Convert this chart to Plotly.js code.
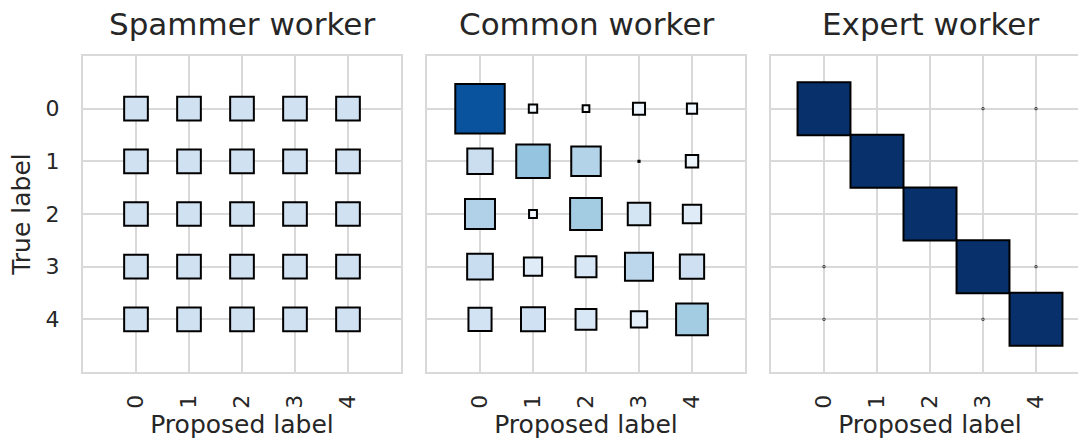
<!DOCTYPE html>
<html>
<head>
<meta charset="utf-8">
<script src="https://cdn.plot.ly/plotly-3.0.1.min.js"></script>
<style>
  html, body { margin: 0; padding: 0; overflow: hidden; background: #fff; }
</style>
</head>
<body>
<div id="plot"></div>
<script>
// labels on both axes
const labels = [0, 1, 2, 3, 4];
const titles = ['Spammer worker', 'Common worker', 'Expert worker'];

// rows = true label, columns = proposed label
const spammer = [
    [0.2, 0.2, 0.2, 0.2, 0.2],
    [0.2, 0.2, 0.2, 0.2, 0.2],
    [0.2, 0.2, 0.2, 0.2, 0.2],
    [0.2, 0.2, 0.2, 0.2, 0.2],
    [0.2, 0.2, 0.2, 0.2, 0.2]
];

const common = [
    [0.87, 0.025, 0.016, 0.052, 0.037],
    [0.23, 0.40, 0.31, 0.0005, 0.055],
    [0.32, 0.022, 0.36, 0.18, 0.12],
    [0.235, 0.118, 0.156, 0.28, 0.21],
    [0.19, 0.205, 0.155, 0.095, 0.36]
];

const expert = [
    [0.997, 0, 0, 0.0015, 0.0015],
    [0, 1, 0, 0, 0],
    [0, 0, 1, 0, 0],
    [0.0015, 0, 0, 0.997, 0.0015],
    [0.0015, 0, 0, 0.0015, 0.997]
];

// matplotlib "Blues"
const blues = [
    [0, '#f7fbff'], [0.125, '#deebf7'], [0.25, '#c6dbef'], [0.375, '#9ecae1'],
    [0.5, '#6baed6'], [0.625, '#4292c6'], [0.75, '#2171b5'], [0.875, '#08519c'], [1, '#08306b']
];

const W = 1090, H = 443;
const M = {l: 83, r: 1, t: 56, b: 71};
const panelPx = 318;
const gapPx = 26;
const innerW = W - M.l - M.r;
const cellPx = panelPx / 6;

const textColor = '#262626';
const gridColor = '#d9d9d9';

// edge width used for near-zero cells, per panel
const tinyEdge = [2, 2, 0.7];

function hintonTrace(mat, i) {
    const x = [], y = [], v = [], s = [];
    mat.forEach((row, r) => {
        row.forEach((val, c) => {
            if (val <= 0) return;
            x.push(labels[c]);
            y.push(labels[r]);
            v.push(val);
            s.push(Math.sqrt(val) * cellPx);
        });
    });
    const n = i === 0 ? '' : String(i + 1);
    return {
        type: 'scatter',
        mode: 'markers',
        x: x,
        y: y,
        xaxis: 'x' + n,
        yaxis: 'y' + n,
        hoverinfo: 'x+y+text',
        text: v.map(d => d.toFixed(3)),
        marker: {
            symbol: 'square',
            size: s,
            opacity: 1,
            color: v,
            cmin: 0,
            cmax: 1,
            colorscale: blues,
            showscale: false,
            line: {color: '#000000', width: s.map(d => d < 3 ? tinyEdge[i] : 2)}
        },
        showlegend: false
    };
}

const traces = [spammer, common, expert].map(hintonTrace);

const layout = {
    width: W,
    height: H,
    margin: M,
    paper_bgcolor: '#ffffff',
    plot_bgcolor: '#ffffff',
    font: {family: 'DejaVu Sans, sans-serif', color: textColor, size: 22},
    annotations: []
};

for (let i = 0; i < 3; i++) {
    const n = i === 0 ? '' : String(i + 1);
    const x0 = i * (panelPx + gapPx) / innerW;
    const x1 = Math.min(1, (i * (panelPx + gapPx) + panelPx) / innerW);
    layout['xaxis' + n] = {
        domain: [x0, x1],
        anchor: 'y' + n,
        range: [-1, 5],
        tickvals: labels,
        ticktext: labels.map(String),
        tickangle: -90,
        ticks: '',
        ticklabelstandoff: 12,
        tickfont: {size: 22, color: textColor},
        showgrid: true,
        gridcolor: gridColor,
        gridwidth: 2,
        zeroline: false,
        showline: true,
        mirror: true,
        linecolor: gridColor,
        linewidth: 2,
        fixedrange: true,
        title: {text: 'Proposed label', font: {size: 25, color: textColor}, standoff: 8}
    };
    layout['yaxis' + n] = {
        domain: [0, 1],
        anchor: 'x' + n,
        range: [5, -1],
        tickvals: labels,
        ticktext: labels.map(String),
        showticklabels: i === 0,
        ticks: '',
        ticklabelstandoff: 17,
        tickfont: {size: 22, color: textColor},
        showgrid: true,
        gridcolor: gridColor,
        gridwidth: 2,
        zeroline: false,
        showline: true,
        mirror: true,
        linecolor: gridColor,
        linewidth: 2,
        fixedrange: true,
        title: i === 0 ? {text: 'True label', font: {size: 25, color: textColor}, standoff: 8} : {text: ''}
    };
    layout.annotations.push({
        text: titles[i],
        xref: 'paper',
        yref: 'paper',
        x: (i * (panelPx + gapPx) + panelPx / 2) / innerW,
        y: 1,
        xanchor: 'center',
        yanchor: 'bottom',
        yshift: 12,
        showarrow: false,
        font: {size: 31, color: textColor}
    });
}

Plotly.newPlot('plot', traces, layout, {displayModeBar: false, staticPlot: true});
</script>
</body>
</html>
